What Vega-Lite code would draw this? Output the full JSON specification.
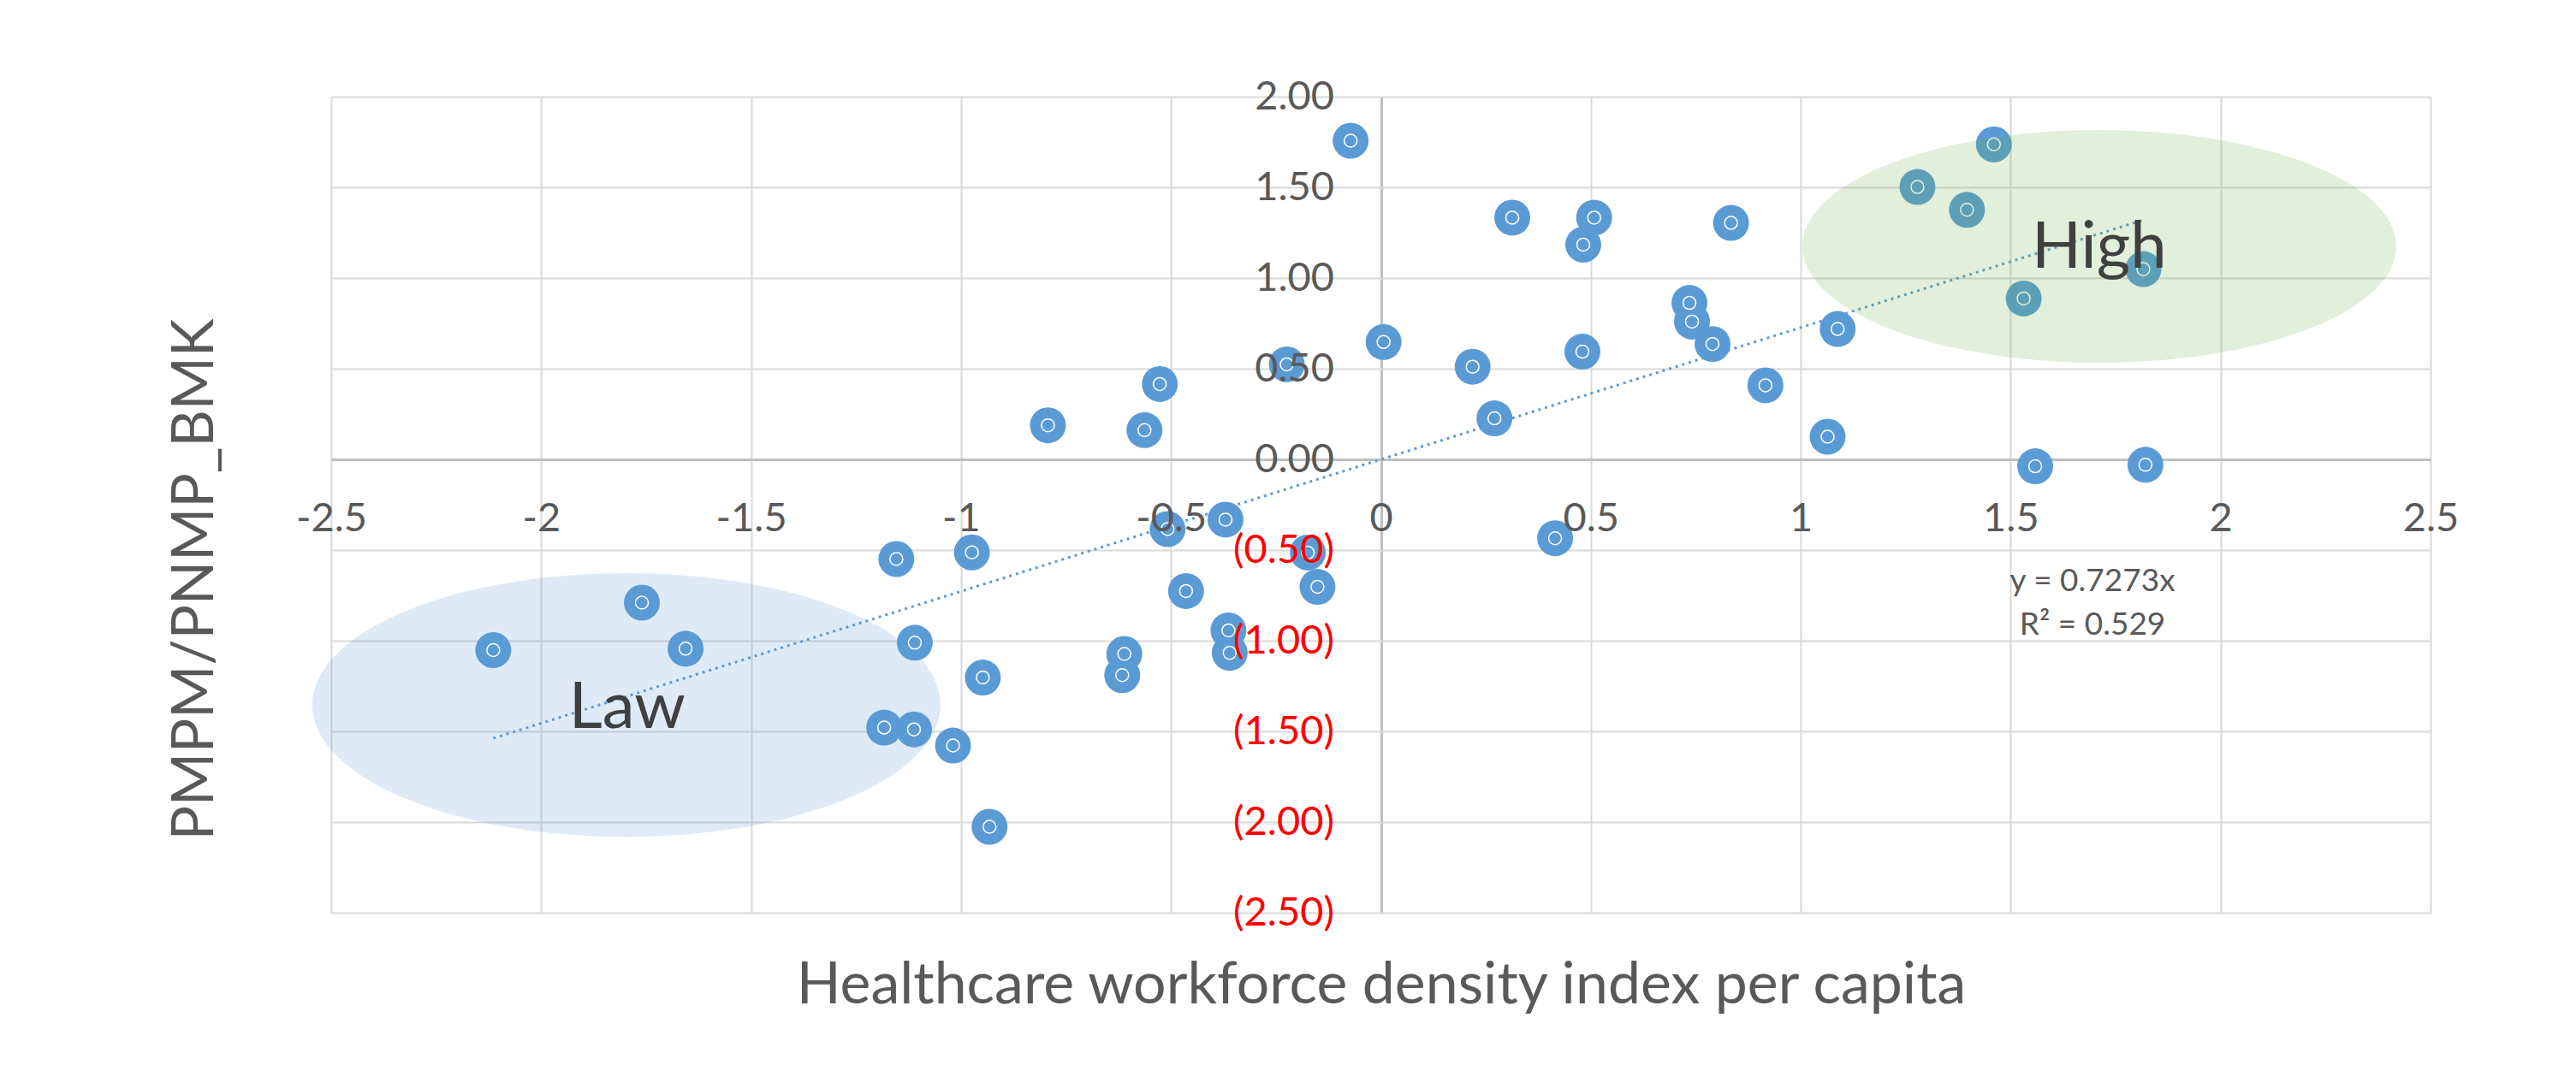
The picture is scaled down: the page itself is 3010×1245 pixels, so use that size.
{
  "$schema": "https://vega.github.io/schema/vega-lite/v6.json",
  "width": 2453,
  "height": 954,
  "autosize": {"type": "none"},
  "padding": {"left": 387, "top": 113, "right": 170, "bottom": 178},
  "background": "white",
  "config": {"view": {"stroke": null}, "font": "Lato"},
  "datasets": {
    "points": [
      {"x": -0.072, "y": 1.757}, {"x": 0.313, "y": 1.333}, {"x": 0.508, "y": 1.333},
      {"x": 0.482, "y": 1.184}, {"x": 0.735, "y": 0.863}, {"x": 0.741, "y": 0.76},
      {"x": 0.79, "y": 0.636}, {"x": 0.0065, "y": 0.647}, {"x": 0.2185, "y": 0.511},
      {"x": 0.48, "y": 0.594}, {"x": -0.224, "y": 0.524}, {"x": -0.5265, "y": 0.4155},
      {"x": -0.793, "y": 0.188}, {"x": -0.563, "y": 0.161}, {"x": 0.2705, "y": 0.226},
      {"x": 0.834, "y": 1.304}, {"x": 1.46, "y": 1.737}, {"x": 1.278, "y": 1.502},
      {"x": 1.396, "y": 1.376}, {"x": 1.816, "y": 1.049}, {"x": 1.531, "y": 0.887},
      {"x": 1.088, "y": 0.719}, {"x": 0.916, "y": 0.4085}, {"x": 1.064, "y": 0.125},
      {"x": 1.5585, "y": -0.038}, {"x": 1.821, "y": -0.03}, {"x": -1.76, "y": -0.79},
      {"x": -2.114, "y": -1.052}, {"x": -1.656, "y": -1.044}, {"x": -1.154, "y": -0.5495},
      {"x": -0.974, "y": -0.513}, {"x": -0.508, "y": -0.3845}, {"x": -0.37, "y": -0.332},
      {"x": -0.174, "y": -0.514}, {"x": -0.151, "y": -0.703}, {"x": -0.464, "y": -0.726},
      {"x": -0.363, "y": -0.943}, {"x": -0.36, "y": -1.067}, {"x": -0.611, "y": -1.073},
      {"x": -0.616, "y": -1.19}, {"x": -1.11, "y": -1.011}, {"x": -0.948, "y": -1.203},
      {"x": -1.183, "y": -1.479}, {"x": -1.112, "y": -1.489}, {"x": -1.019, "y": -1.578},
      {"x": -0.932, "y": -2.026}, {"x": 0.415, "y": -0.435}
    ],
    "trend": [{"x": -2.114, "y": -1.538}, {"x": 1.821, "y": 1.324}],
    "ellipses": [
      {"name": "Law", "x": -1.797, "y": -1.354},
      {"name": "High", "x": 1.711, "y": 1.175}
    ],
    "groupLabels": [
      {"text": "Law", "x": -1.795, "y": -1.373},
      {"text": "High", "x": 1.711, "y": 1.165}
    ],
    "equation": [
      {"text": "y = 0.7273x", "x": 1.695, "y": -0.675},
      {"text": "R² = 0.529", "x": 1.695, "y": -0.913}
    ]
  },
  "resolve": {"axis": {"x": "independent", "y": "independent"}},
  "layer": [
    {
      "data": {"name": "ellipses"},
      "transform": [{"filter": "datum.name === 'Law'"}],
      "mark": {"type": "point", "filled": true, "shape": "M -1 0 A 1 0.42 0 1 1 1 0 A 1 0.42 0 1 1 -1 0 Z", "size": 538756, "color": "#5B9BD5", "opacity": 0.2, "strokeWidth": 0},
      "encoding": {
        "x": {
          "field": "x", "type": "quantitative",
          "scale": {"domain": [-2.5, 2.5], "nice": false, "zero": false},
          "axis": {
            "orient": "bottom", "values": [-2.5, -2, -1.5, -1, -0.5, 0, 0.5, 1, 1.5, 2, 2.5],
            "labels": false, "ticks": false, "domain": false, "grid": true,
            "gridColor": {"condition": {"test": "datum.value === 0", "value": "#BFBFBF"}, "value": "#D9D9D9"},
            "gridWidth": {"condition": {"test": "datum.value === 0", "value": 3}, "value": 2},
            "title": "Healthcare workforce density index per capita",
            "titleFont": "Lato", "titleFontSize": 68, "titleFontWeight": "normal", "titleColor": "#595959",
            "titleY": 85, "titleBaseline": "middle", "zindex": 0
          }
        },
        "y": {
          "field": "y", "type": "quantitative",
          "scale": {"domain": [-2.5, 2], "nice": false, "zero": false},
          "axis": {
            "orient": "left", "values": [-2.5, -2, -1.5, -1, -0.5, 0, 0.5, 1, 1.5, 2],
            "labels": false, "ticks": false, "domain": false, "grid": true,
            "gridColor": {"condition": {"test": "datum.value === 0", "value": "#BFBFBF"}, "value": "#D9D9D9"},
            "gridWidth": {"condition": {"test": "datum.value === 0", "value": 3}, "value": 2},
            "title": "PMPM/PNMP_BMK",
            "titleFont": "Lato", "titleFontSize": 67, "titleFontWeight": "normal", "titleColor": "#595959",
            "titleAngle": -90, "titleX": -159, "titleY": 564, "titleAlign": "center", "titleBaseline": "middle", "zindex": 0
          }
        }
      }
    },
    {
      "data": {"name": "trend"},
      "mark": {"type": "line", "color": "#5B9BD5", "strokeWidth": 3, "strokeDash": [3, 5]},
      "encoding": {
        "x": {"field": "x", "type": "quantitative", "scale": {"domain": [-2.5, 2.5], "nice": false, "zero": false}, "axis": null},
        "y": {"field": "y", "type": "quantitative", "scale": {"domain": [-2.5, 2], "nice": false, "zero": false}, "axis": null}
      }
    },
    {
      "data": {"name": "points"},
      "mark": {"type": "circle", "size": 1764, "color": "#5B9BD5", "opacity": 1},
      "encoding": {
        "x": {"field": "x", "type": "quantitative", "scale": {"domain": [-2.5, 2.5], "nice": false, "zero": false}, "axis": null},
        "y": {"field": "y", "type": "quantitative", "scale": {"domain": [-2.5, 2], "nice": false, "zero": false}, "axis": null}
      }
    },
    {
      "data": {"name": "points"},
      "mark": {"type": "point", "shape": "circle", "size": 225, "filled": false, "stroke": "white", "strokeWidth": 1.5, "opacity": 1},
      "encoding": {
        "x": {"field": "x", "type": "quantitative", "scale": {"domain": [-2.5, 2.5], "nice": false, "zero": false}, "axis": null},
        "y": {"field": "y", "type": "quantitative", "scale": {"domain": [-2.5, 2], "nice": false, "zero": false}, "axis": null}
      }
    },
    {
      "data": {"name": "ellipses"},
      "transform": [{"filter": "datum.name === 'High'"}],
      "mark": {"type": "point", "filled": true, "shape": "M -1 0 A 1 0.392 0 1 1 1 0 A 1 0.392 0 1 1 -1 0 Z", "size": 481636, "color": "#70AD47", "opacity": 0.2, "strokeWidth": 0},
      "encoding": {
        "x": {"field": "x", "type": "quantitative", "scale": {"domain": [-2.5, 2.5], "nice": false, "zero": false}, "axis": null},
        "y": {"field": "y", "type": "quantitative", "scale": {"domain": [-2.5, 2], "nice": false, "zero": false}, "axis": null}
      }
    },
    {
      "data": {"name": "groupLabels"},
      "mark": {"type": "text", "font": "Lato", "fontSize": 76, "color": "#404040", "align": "center", "baseline": "middle"},
      "encoding": {
        "x": {"field": "x", "type": "quantitative", "scale": {"domain": [-2.5, 2.5], "nice": false, "zero": false}, "axis": null},
        "y": {"field": "y", "type": "quantitative", "scale": {"domain": [-2.5, 2], "nice": false, "zero": false}, "axis": null},
        "text": {"field": "text"}
      }
    },
    {
      "data": {"name": "equation"},
      "mark": {"type": "text", "font": "Lato", "fontSize": 37, "color": "#595959", "align": "center", "baseline": "middle"},
      "encoding": {
        "x": {
          "field": "x", "type": "quantitative",
          "scale": {"domain": [-2.5, 2.5], "nice": false, "zero": false},
          "axis": {
            "orient": "bottom", "offset": -530, "values": [-2.5, -2, -1.5, -1, -0.5, 0, 0.5, 1, 1.5, 2, 2.5],
            "labelExpr": "'' + datum.value",
            "grid": false, "domain": false, "ticks": false, "tickSize": 0,
            "labelPadding": 46, "labelFont": "Lato", "labelFontSize": 47, "labelColor": "#595959",
            "labelFlush": false, "labelOverlap": false, "title": null, "zindex": 1
          }
        },
        "y": {
          "field": "y", "type": "quantitative",
          "scale": {"domain": [-2.5, 2], "nice": false, "zero": false},
          "axis": {
            "orient": "left", "offset": -1226.5, "values": [-2.5, -2, -1.5, -1, -0.5, 0, 0.5, 1, 1.5, 2],
            "labelExpr": "datum.value < 0 ? '(' + format(-datum.value, '.2f') + ')' : format(datum.value, '.2f')",
            "grid": false, "domain": false, "ticks": false, "tickSize": 0,
            "labelPadding": 55, "labelFont": "Lato", "labelFontSize": 47,
            "labelColor": {"condition": {"test": "datum.value < 0", "value": "#FF0000"}, "value": "#595959"},
            "labelFlush": false, "labelOverlap": false, "title": null, "zindex": 1
          }
        },
        "text": {"field": "text"}
      }
    }
  ]
}
